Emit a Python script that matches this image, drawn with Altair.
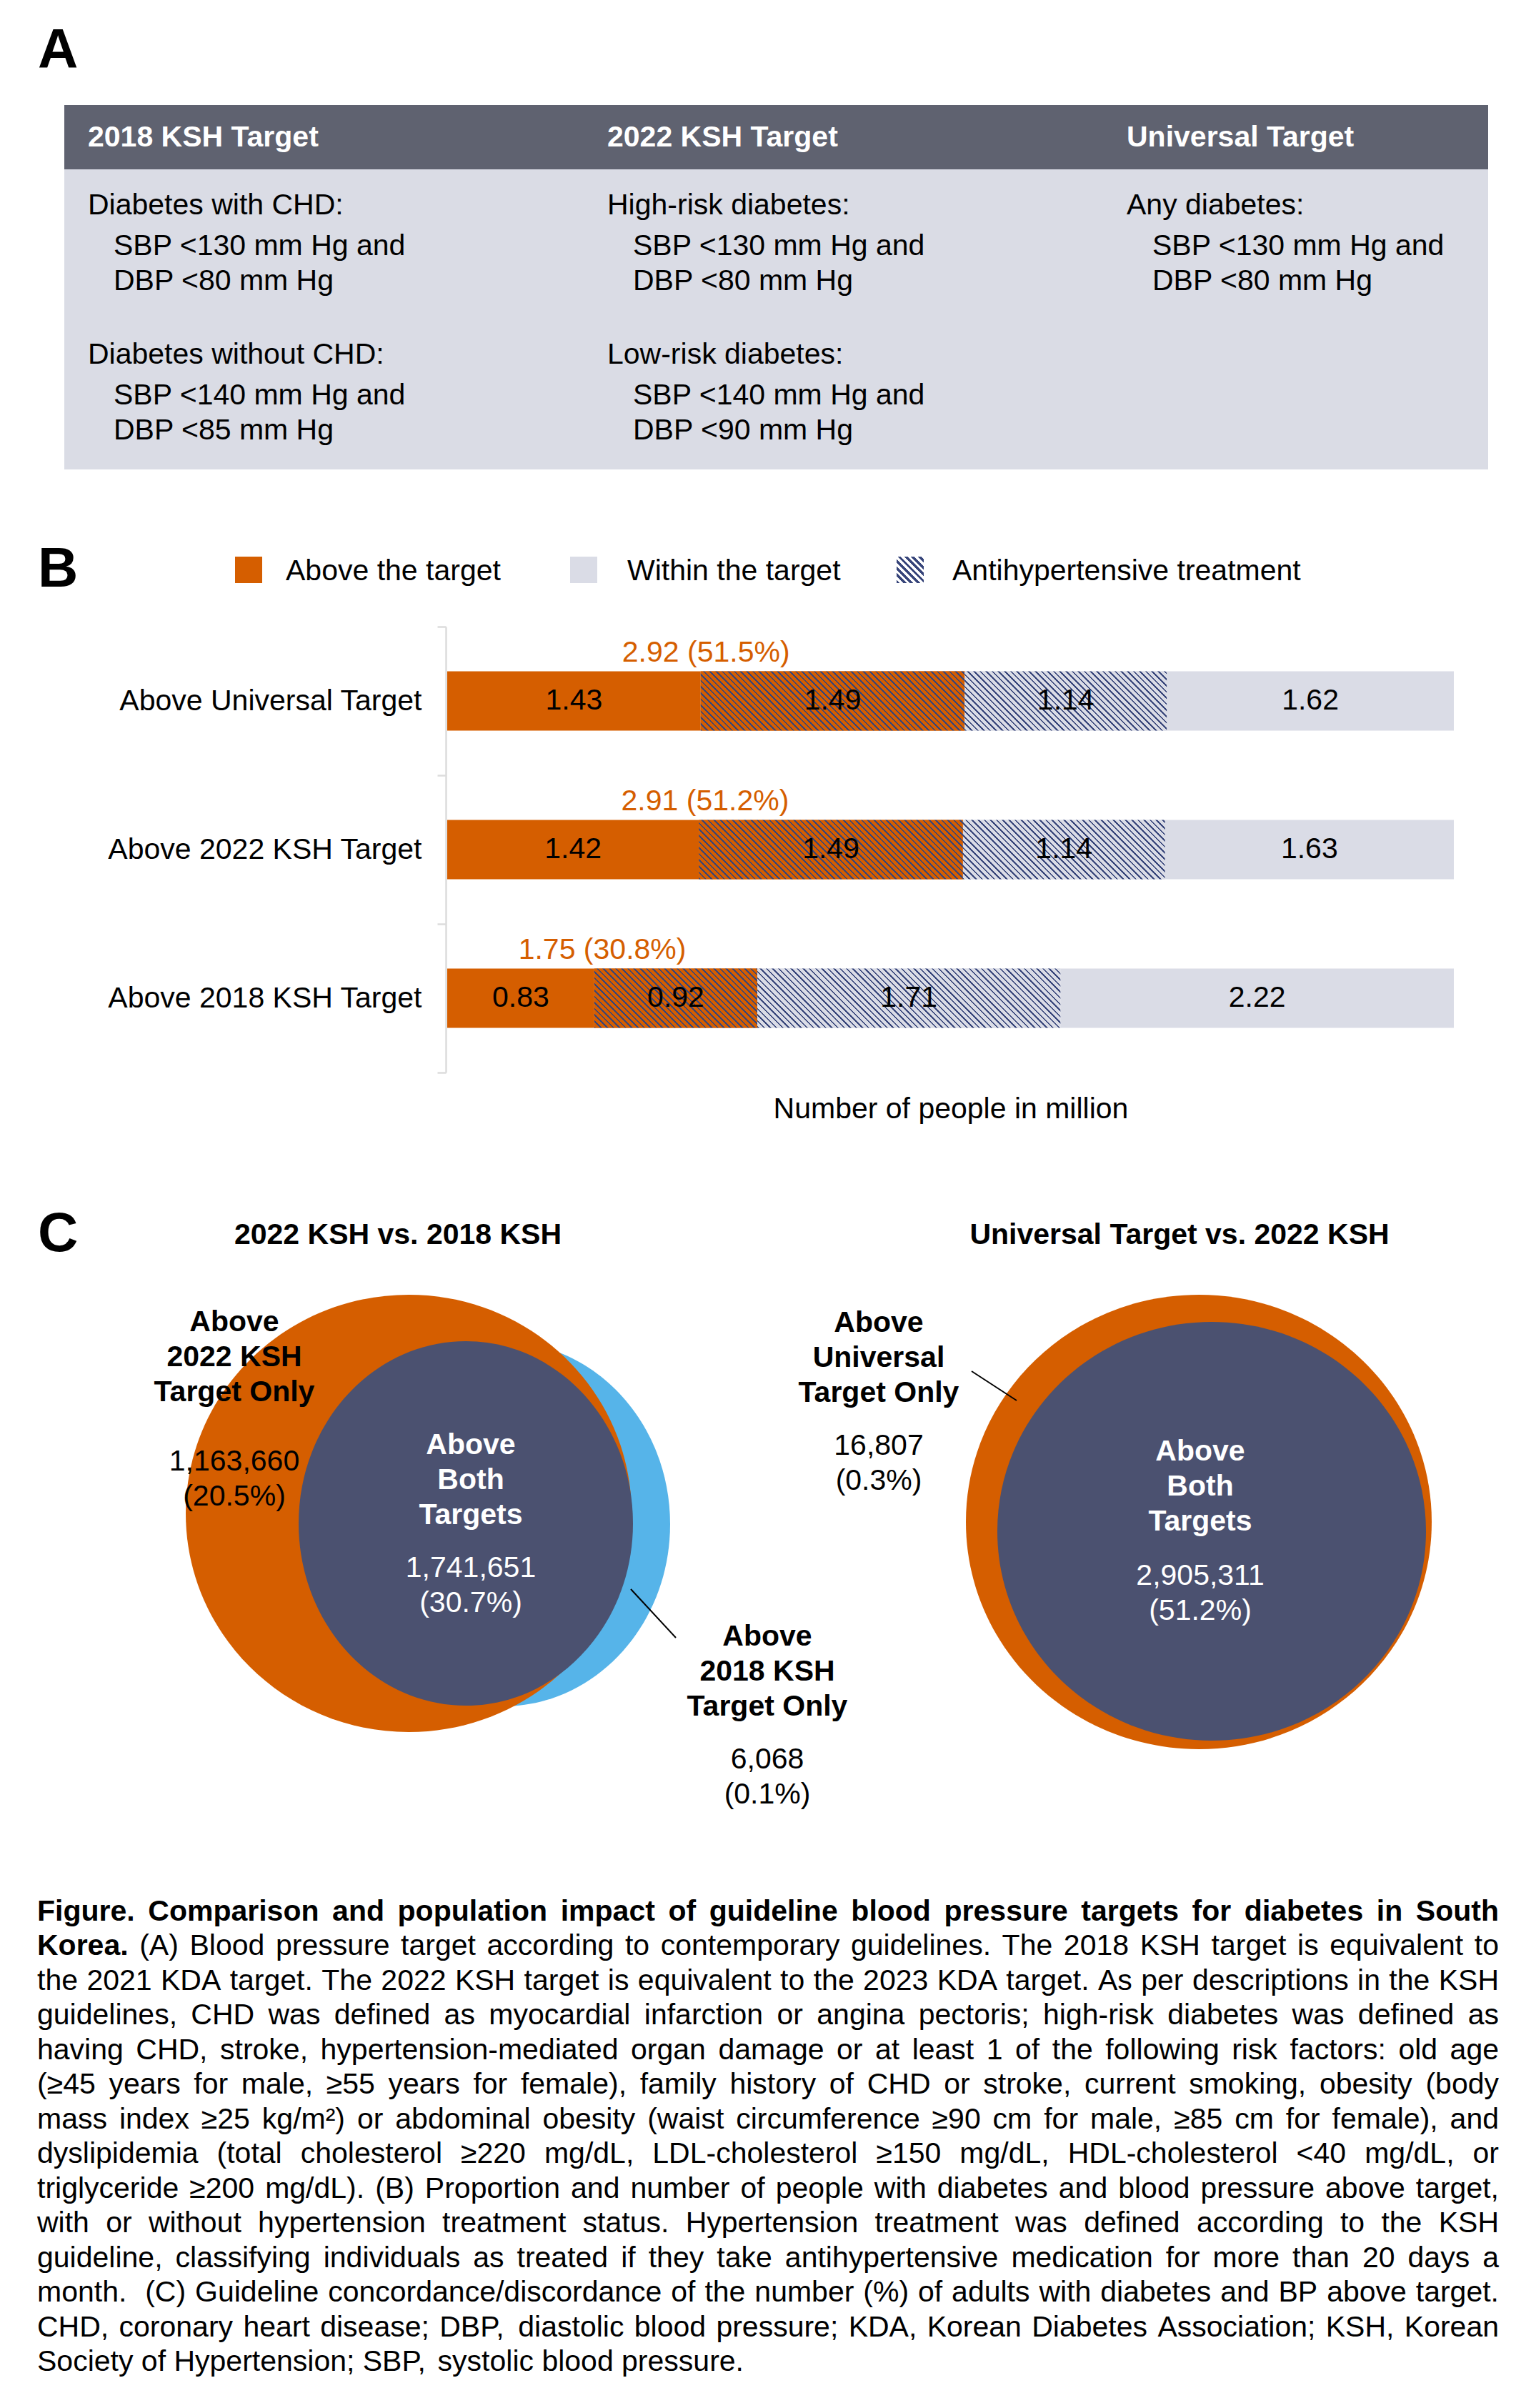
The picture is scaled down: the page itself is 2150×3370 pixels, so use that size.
import math
import altair as alt
import pandas as pd

# ============================ DATA ============================
rows = ["Above Universal Target", "Above 2022 KSH Target", "Above 2018 KSH Target"]
above_untreated = [1.43, 1.42, 0.83]
above_treated = [1.49, 1.49, 0.92]
within_treated = [1.14, 1.14, 1.71]
within_untreated = [1.62, 1.63, 2.22]
above_total = [2.92, 2.91, 1.75]
above_pct = [51.5, 51.2, 30.8]
legend_labels = ["Above the target", "Within the target", "Antihypertensive treatment"]
x_title = "Number of people in million"

panel_letters = ["A", "B", "C"]
table_headers = ["2018 KSH Target", "2022 KSH Target", "Universal Target"]
table_groups = [
    ["Diabetes with CHD:", "Diabetes without CHD:"],
    ["High-risk diabetes:", "Low-risk diabetes:"],
    ["Any diabetes:"],
]
table_criteria = [
    [["SBP <130 mm Hg and", "DBP <80 mm Hg"], ["SBP <140 mm Hg and", "DBP <85 mm Hg"]],
    [["SBP <130 mm Hg and", "DBP <80 mm Hg"], ["SBP <140 mm Hg and", "DBP <90 mm Hg"]],
    [["SBP <130 mm Hg and", "DBP <80 mm Hg"]],
]

venn_titles = ["2022 KSH vs. 2018 KSH", "Universal Target vs. 2022 KSH"]
venn1_names = [["Above", "2022 KSH", "Target Only"], ["Above", "Both", "Targets"],
               ["Above", "2018 KSH", "Target Only"]]
venn1_counts = [1163660, 1741651, 6068]
venn1_pct = [20.5, 30.7, 0.1]
venn2_names = [["Above", "Universal", "Target Only"], ["Above", "Both", "Targets"]]
venn2_counts = [16807, 2905311]
venn2_pct = [0.3, 51.2]

caption_lines = [
    ("Figure. Comparison and population impact of guideline blood pressure targets for diabetes in South", ""),
    ("Korea.", "(A) Blood pressure target according to contemporary guidelines. The 2018 KSH target is equivalent to"),
    ("", "the 2021 KDA target. The 2022 KSH target is equivalent to the 2023 KDA target. As per descriptions in the KSH"),
    ("", "guidelines, CHD was defined as myocardial infarction or angina pectoris; high-risk diabetes was defined as"),
    ("", "having CHD, stroke, hypertension-mediated organ damage or at least 1 of the following risk factors: old age"),
    ("", "(\u226545 years for male, \u226555 years for female), family history of CHD or stroke, current smoking, obesity (body"),
    ("", "mass index \u226525 kg/m\u00b2) or abdominal obesity (waist circumference \u226590 cm for male, \u226585 cm for female), and"),
    ("", "dyslipidemia (total cholesterol \u2265220 mg/dL, LDL-cholesterol \u2265150 mg/dL, HDL-cholesterol <40 mg/dL, or"),
    ("", "triglyceride \u2265200 mg/dL). (B) Proportion and number of people with diabetes and blood pressure above target,"),
    ("", "with or without hypertension treatment status. Hypertension treatment was defined according to the KSH"),
    ("", "guideline, classifying individuals as treated if they take antihypertensive medication for more than 20 days a"),
    ("", "month.  (C) Guideline concordance/discordance of the number (%) of adults with diabetes and BP above target."),
    ("", "CHD, coronary heart disease; DBP, diastolic blood pressure; KDA, Korean Diabetes Association; KSH, Korean"),
    ("", "Society of Hypertension; SBP, systolic blood pressure."),
]

# ============================ STYLE / LAYOUT ============================
FONT = "Liberation Sans"
FS = 41
ORANGE = "#D55E00"
BAR_GREY = "#DADCE6"
HATCH = "#37457A"
VENN_NAVY = "#4B5170"
BLUE = "#56B4E9"
HEAD_BG = "#5F6270"
BODY_BG = "#DADCE5"
AXIS_GREY = "#DCDCDC"

W_CHART, H_CHART = 2130, 3340
X_RANGE = [618, 2027]
Y_RANGE = [869, 1493]
BAR_H = 83
HATCH_PERIOD = 8.6
HATCH_FRAC = 0.3
LEGEND_HATCH_PERIOD = 9.5
LEGEND_HATCH_FRAC = 0.5

# Arial / Liberation Sans advance widths (per 1000 em) for caption justification
REG_W = dict(zip("abcdefghijklmnopqrstuvwxyz",
                 [556, 556, 500, 556, 556, 278, 556, 556, 222, 222, 500, 222, 833, 556, 556, 556, 556, 333, 500, 278,
                  556, 500, 722, 500, 500, 500]))
REG_W.update(zip("ABCDEFGHIJKLMNOPQRSTUVWXYZ",
                 [667, 667, 722, 722, 667, 611, 778, 722, 278, 500, 667, 556, 833, 722, 778, 667, 778, 722, 667, 611,
                  722, 667, 944, 667, 667, 611]))
REG_W.update({" ": 278, ".": 278, ",": 278, ";": 278, ":": 278, "(": 333, ")": 333, "-": 333, "/": 278,
              "%": 889, "<": 584, "\u2265": 549, "\u00b2": 333})
REG_W.update({d: 556 for d in "0123456789"})
BOLD_W = dict(zip("abcdefghijklmnopqrstuvwxyz",
                  [556, 611, 556, 611, 556, 333, 611, 611, 278, 278, 556, 278, 889, 611, 611, 611, 611, 389, 556, 333,
                   611, 556, 778, 556, 556, 500]))
BOLD_W.update(zip("ABCDEFGHIJKLMNOPQRSTUVWXYZ",
                  [722, 722, 722, 722, 667, 611, 778, 722, 278, 556, 722, 611, 833, 722, 778, 667, 778, 722, 667, 611,
                   722, 667, 944, 667, 667, 611]))
BOLD_W.update({" ": 278, ".": 278, ",": 278, ";": 333, ":": 333, "(": 333, ")": 333, "-": 333, "/": 278,
               "%": 889})
BOLD_W.update({d: 556 for d in "0123456789"})


def text_w(s, bold):
    table = BOLD_W if bold else REG_W
    return sum(table.get(ch, 556) for ch in s) * FS / 1000.0


DUMMY = alt.Data(values=[{"k": 0}])


def text_layer(items, **props):
    base = dict(font=FONT, fontSize=FS, color="black", baseline="middle", align="left")
    base.update(props)
    return alt.Chart(pd.DataFrame(items)).mark_text(**base).encode(
        x=alt.X("px:Q", scale=None, axis=None),
        y=alt.Y("py:Q", scale=None, axis=None),
        text="t:N",
    )


def rect(x, x2, y, y2, fill):
    return alt.Chart(DUMMY).mark_rect(fill=fill, strokeWidth=0).encode(
        x=alt.value(x), x2=alt.value(x2), y=alt.value(y), y2=alt.value(y2))


def hatch_fill(W, H, bg, period=HATCH_PERIOD, frac=HATCH_FRAC):
    r = H / W
    k = (1 + r) / (1 + r * r)
    n = (W + H) / period
    stops = []
    i = 0
    while i < n:
        a = i / n
        b = min((i + frac) / n, 1.0)
        c = min((i + 1) / n, 1.0)
        stops += [{"offset": round(a, 5), "color": HATCH}, {"offset": round(b, 5), "color": HATCH},
                  {"offset": round(b, 5), "color": bg}, {"offset": round(c, 5), "color": bg}]
        i += 1
    return {"gradient": "linear", "x1": 0, "y1": 1, "x2": round(k, 5), "y2": round(1 - r * k, 5),
            "stops": stops}


def ellipse_path(k):
    c = 0.5523
    return (f"M 1 0 C 1 {k*c:.4f} {c:.4f} {k:.4f} 0 {k:.4f} "
            f"C {-c:.4f} {k:.4f} -1 {k*c:.4f} -1 0 "
            f"C -1 {-k*c:.4f} {-c:.4f} {-k:.4f} 0 {-k:.4f} "
            f"C {c:.4f} {-k:.4f} 1 {-k*c:.4f} 1 0 Z")


def ellipse(cx, cy, rx, ry, fill):
    return alt.Chart(DUMMY).mark_point(shape=ellipse_path(ry / rx), size=(2 * rx) ** 2, filled=True,
                                       fill=fill, opacity=1, strokeWidth=0).encode(
        x=alt.value(cx), y=alt.value(cy))


def leader(x1, y1, x2, y2):
    return alt.Chart(DUMMY).mark_rule(color="black", strokeWidth=2).encode(
        x=alt.value(x1), y=alt.value(y1), x2=alt.value(x2), y2=alt.value(y2))


layers = []

# ---------------- Panel A: table ----------------
layers.append(rect(82, 2075, 139, 229, HEAD_BG))
layers.append(rect(82, 2075, 229, 649, BODY_BG))
COL_X = [115, 842, 1569]
INDENT = 36
HEAD_Y = 185
GROUP_Y = [280, 489]
CRIT_DY = [57, 106]
head_items, body_items = [], []
for ci, h in enumerate(table_headers):
    head_items.append({"t": h, "px": COL_X[ci], "py": HEAD_Y})
    for gi, g in enumerate(table_groups[ci]):
        body_items.append({"t": g, "px": COL_X[ci], "py": GROUP_Y[gi]})
        for li, line in enumerate(table_criteria[ci][gi]):
            body_items.append({"t": line, "px": COL_X[ci] + INDENT, "py": GROUP_Y[gi] + CRIT_DY[li]})
layers.append(text_layer(head_items, fontWeight="bold", color="white"))
layers.append(text_layer(body_items))

# panel letters
LETTER_POS = [(45, 64), (45, 790), (45, 1720)]
layers.append(text_layer([{"t": t, "px": p[0], "py": p[1]} for t, p in zip(panel_letters, LETTER_POS)],
                         fontWeight="bold", fontSize=78))

# ---------------- Panel B: legend ----------------
LEG_SQ = [(321, 359), (790, 828), (1247, 1285)]
LEG_Y = (771, 808)
LEG_TX = [392, 870, 1325]
LEG_TY = 792
layers.append(rect(LEG_SQ[0][0], LEG_SQ[0][1], LEG_Y[0], LEG_Y[1], ORANGE))
layers.append(rect(LEG_SQ[1][0], LEG_SQ[1][1], LEG_Y[0], LEG_Y[1], BAR_GREY))
layers.append(rect(LEG_SQ[2][0], LEG_SQ[2][1], LEG_Y[0], LEG_Y[1],
                   hatch_fill(LEG_SQ[2][1] - LEG_SQ[2][0], LEG_Y[1] - LEG_Y[0], "white",
                              LEGEND_HATCH_PERIOD, LEGEND_HATCH_FRAC)))
layers.append(text_layer([{"t": t, "px": x, "py": LEG_TY} for t, x in zip(legend_labels, LEG_TX)]))

# ---------------- Panel B: bars ----------------
segments = [("above_untreated", above_untreated, "above"), ("above_treated", above_treated, "above"),
            ("within_treated", within_treated, "within"), ("within_untreated", within_untreated, "within")]
recs = []
for i, r in enumerate(rows):
    cum = 0.0
    for name, vals, kind in segments:
        v = vals[i]
        recs.append({"row": r, "seg": name, "kind": kind, "value": v, "start": round(cum, 4),
                     "end": round(cum + v, 4), "mid": round(cum + v / 2, 4), "label": f"{v:.2f}"})
        cum += v
bar_df = pd.DataFrame(recs)
x_max = round(max(sum(s[1][i] for s in segments) for i in range(len(rows))), 4)
px_per_unit = (X_RANGE[1] - X_RANGE[0]) / x_max

x_scale = alt.Scale(domain=[0, x_max], range=X_RANGE, nice=False, zero=False)
y_scale = alt.Scale(domain=rows, range=Y_RANGE, paddingInner=0, paddingOuter=0)
x_axis = alt.Axis(title=x_title, labels=False, ticks=False, domain=False, grid=False,
                  offset=Y_RANGE[1] - H_CHART, titleFontSize=FS, titleFontWeight="normal",
                  titleColor="black", titleFont=FONT, titleBaseline="middle", titleY=51)
y_axis = alt.Axis(title=None, orient="left", offset=-(X_RANGE[0] - 2), domainColor=AXIS_GREY,
                  domainWidth=2.5, tickColor=AXIS_GREY, tickWidth=2.5, tickSize=12, tickBand="extent",
                  labelFontSize=FS, labelColor="black", labelFont=FONT, labelPadding=22, labelLimit=1000,
                  grid=False)
y_row = alt.Y("row:N", scale=y_scale, axis=y_axis, sort=rows)

layers.append(alt.Chart(bar_df).mark_bar(height=BAR_H).encode(
    x=alt.X("start:Q", scale=x_scale, axis=x_axis), x2="end:Q", y=y_row,
    color=alt.Color("kind:N", scale=alt.Scale(domain=["above", "within"], range=[ORANGE, BAR_GREY]),
                    legend=None)))

for i, r in enumerate(rows):
    for seg, bg in (("above_treated", ORANGE), ("within_treated", BAR_GREY)):
        d = bar_df[(bar_df["row"] == r) & (bar_df["seg"] == seg)]
        w = float(d["value"].iloc[0]) * px_per_unit
        layers.append(alt.Chart(d).mark_bar(height=BAR_H, fill=hatch_fill(w, BAR_H, bg), strokeWidth=0).encode(
            x=alt.X("start:Q", scale=x_scale, axis=x_axis), x2="end:Q", y=y_row))

layers.append(alt.Chart(bar_df).mark_text(font=FONT, fontSize=FS, color="black", baseline="middle").encode(
    x=alt.X("mid:Q", scale=x_scale, axis=x_axis), y=y_row, text="label:N"))

tot_df = pd.DataFrame({"row": rows, "half": [t / 2 for t in above_total],
                       "label": [f"{t:.2f} ({p}%)" for t, p in zip(above_total, above_pct)]})
layers.append(alt.Chart(tot_df).mark_text(font=FONT, fontSize=FS, color=ORANGE, baseline="middle",
                                          dy=-67).encode(
    x=alt.X("half:Q", scale=x_scale, axis=x_axis), y=y_row, text="label:N"))

# ---------------- Panel C: Venn diagrams ----------------
layers.append(ellipse(696, 2125, 234, 255, BLUE))
layers.append(ellipse(564, 2110, 312, 306, ORANGE))
layers.append(ellipse(644, 2124, 234, 255, VENN_NAVY))
layers.append(ellipse(1670, 2122, 326, 318, ORANGE))
layers.append(ellipse(1688, 2135, 300, 293, VENN_NAVY))
layers.append(leader(875, 2216, 938, 2284))
layers.append(leader(1352, 1911, 1415, 1952))

TITLE_POS = [(549, 1721), (1643, 1721)]
layers.append(text_layer([{"t": t, "px": p[0], "py": p[1]} for t, p in zip(venn_titles, TITLE_POS)],
                         fontWeight="bold", align="center"))

LH = 49
PCT_DY = 49
V1_POS = [(320, 1843, 2038), (651, 2015, 2187), (1066, 2283, 2455)]
V2_POS = [(1222, 1844, 2016), (1672, 2024, 2198)]
V1_WHITE = [False, True, False]
V2_WHITE = [False, True]
name_k, name_w, num_k, num_w = [], [], [], []
for names, counts, pcts, pos, white in ((venn1_names, venn1_counts, venn1_pct, V1_POS, V1_WHITE),
                                        (venn2_names, venn2_counts, venn2_pct, V2_POS, V2_WHITE)):
    for nm, cnt, pc, (cx, ny, cy), wh in zip(names, counts, pcts, pos, white):
        tgt_n = name_w if wh else name_k
        tgt_c = num_w if wh else num_k
        for li, line in enumerate(nm):
            tgt_n.append({"t": line, "px": cx, "py": ny + li * LH})
        tgt_c.append({"t": f"{cnt:,}", "px": cx, "py": cy})
        tgt_c.append({"t": f"({pc}%)", "px": cx, "py": cy + PCT_DY})
layers.append(text_layer(name_k, fontWeight="bold", align="center"))
layers.append(text_layer(name_w, fontWeight="bold", align="center", color="white"))
layers.append(text_layer(num_k, align="center"))
layers.append(text_layer(num_w, align="center", color="white"))

# ---------------- Caption (justified word layout) ----------------
CAP_X0, CAP_X1 = 44, 2090
CAP_Y0, CAP_LH = 2668, 48.46
cap_b, cap_r = [], []
for li, (bpart, rpart) in enumerate(caption_lines):
    words = ([(w, True) for w in bpart.split(" ")] if bpart else []) + \
            ([(w, False) for w in rpart.split(" ")] if rpart else [])
    widths = [text_w(w, b) for w, b in words]
    if li < len(caption_lines) - 1 and len(words) > 1:
        gap = (CAP_X1 - CAP_X0 - sum(widths)) / (len(words) - 1)
    else:
        gap = REG_W[" "] * FS / 1000.0
    x = CAP_X0
    y = CAP_Y0 + li * CAP_LH
    for (w, b), wd in zip(words, widths):
        if w:
            (cap_b if b else cap_r).append({"t": w, "px": round(x, 2), "py": round(y, 2)})
        x += wd + gap
layers.append(text_layer(cap_b, fontWeight="bold"))
layers.append(text_layer(cap_r))

chart = alt.layer(*layers).properties(
    width=W_CHART, height=H_CHART, autosize=alt.AutoSizeParams(type="none"), padding=0,
    background="white",
).configure(font=FONT).configure_view(stroke=None, strokeWidth=0)

chart.save("out.html", embed_options={"renderer": "svg", "actions": False})
